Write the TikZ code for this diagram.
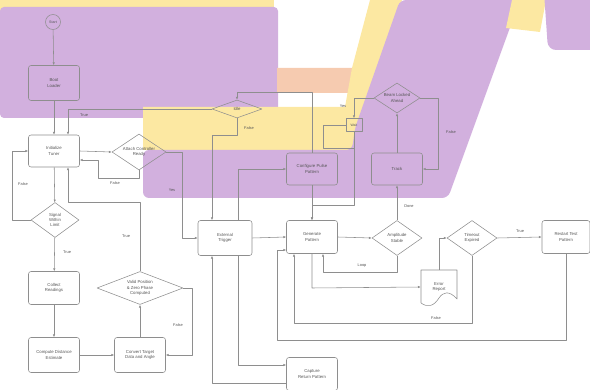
\documentclass[tikz,border=0pt]{standalone}
\usepackage{fontspec}
\setmainfont{Liberation Sans}
\usetikzlibrary{arrows.meta,shapes.geometric}
\definecolor{flowedge}{HTML}{8E8E8E}
\definecolor{flowtext}{HTML}{555555}
\definecolor{hlpurple}{HTML}{D2B0DE}
\definecolor{hlyellow}{HTML}{FCE8A2}
\definecolor{hlpeach}{HTML}{F6CBB0}

\begin{document}
\begin{tikzpicture}[
  x=1pt,
  y=-1pt,
  line join=round,
  wire/.style={draw=flowedge,line width=0.55pt},
  flow/.style={wire,-{Latex[length=2.8pt,width=2.4pt]}},
  stepbox/.style={wire,rounded corners=2.5pt,minimum width=51pt,minimum height=33pt,inner sep=1pt,align=center,text=flowtext,font=\fontsize{4.3}{5.4}\selectfont},
  choice/.style={wire,diamond,aspect=1.5,inner sep=0pt,align=center,text=flowtext,font=\fontsize{4.3}{5.4}\selectfont},
  tag/.style={inner sep=0.5pt,text=flowtext,font=\fontsize{3.9}{4.6}\selectfont}
]
  \useasboundingbox (0,0) rectangle (590,390);

  % Highlighter strokes behind the chart.
  \fill[hlyellow] (0,0) rectangle (274,11);
  \fill[hlpurple,rounded corners=4pt] (0,7) rectangle (278,118);
  \fill[hlpeach] (277,68) -- (353,68) -- (348,93) -- (277,93) -- cycle;
  \fill[hlyellow] (370,0) -- (402,0) -- (357,127) -- (354,150) -- (143,150) -- (143,107) -- (345,107) -- (352,68) -- cycle;
  \fill[hlpurple,rounded corners=6pt] (400,0) -- (520,0) -- (448,198) -- (143,198) -- (143,150) -- (352,150) -- (355,128) -- cycle;
  \fill[hlyellow] (512,0) -- (546,0) -- (540,32) -- (506,28) -- cycle;
  \fill[hlpurple,rounded corners=8pt] (544,-8) -- (598,-8) -- (598,50) -- (548,50) -- cycle;

  % Left column.
  \node[wire,circle,minimum size=15pt,inner sep=0pt,text=flowtext,font=\fontsize{3.6}{4}\selectfont] (start) at (53,22) {Start};
  \node[stepbox,minimum height=35pt] (boot) at (54,83) {Boot\\Loader};
  \node[stepbox,minimum height=32pt] (init) at (54,151) {Initialize\\Tuner};
  \node[choice,minimum width=48pt,minimum height=35pt] (limit) at (55,220) {Signal\\Within\\Limit};
  \node[stepbox] (collect) at (54,288) {Collect\\Readings};
  \node[stepbox,minimum height=35pt] (distance) at (54,355) {Compute Distance\\Estimate};
  \node[stepbox,minimum height=35pt] (convert) at (140,355) {Convert Target\\Data and Angle};
  \node[choice,aspect=2.6,minimum width=86pt,minimum height=33pt] (valid) at (140,288) {Valid Position\\\& Zero Phase\\Computed};
  \node[choice,minimum width=54pt,minimum height=36pt] (attach) at (139,152) {Attach Controller\\Ready};

  % Upper middle, inside the marked band.
  \node[choice,aspect=2.7,minimum width=50pt,minimum height=18pt] (idle) at (237,109) {Idle};
  \node[stepbox,minimum height=32pt] (pulse) at (312,169) {Configure Pulse\\Pattern};
  \node[wire,minimum width=16pt,minimum height=13pt,inner sep=0.5pt,text=flowtext,font=\fontsize{3.4}{4}\selectfont] (wait) at (354,125) {Wait};
  \node[choice,minimum width=46pt,minimum height=30pt] (lock) at (397,98) {Beam Locked\\Ahead};
  \node[stepbox,minimum height=32pt] (track) at (397,169) {Track};

  % Lower middle and right.
  \node[stepbox,minimum width=54pt,minimum height=35pt] (trigger) at (225,238) {External\\Trigger};
  \node[stepbox] (pattern) at (312,237) {Generate\\Pattern};
  \node[choice,minimum width=50pt,minimum height=35pt] (stable) at (397,238) {Amplitude\\Stable};
  \node[inner sep=0pt,minimum width=36pt,minimum height=34pt,align=center,text=flowtext,font=\fontsize{4.3}{5.4}\selectfont] (report) at (439,287) {Error\\Report};
  \node[choice,minimum width=50pt,minimum height=35pt] (timeout) at (472,238) {Timeout\\Expired};
  \node[stepbox,minimum width=48pt] (restart) at (566,237) {Restart Test\\Pattern};
  \node[stepbox] (capture) at (312,374) {Capture\\Return Pattern};

  % Document outline with a wavy lower edge.
  \draw[wire] (421,303) -- (421,270) -- (457,270) -- (457,299) .. controls (449,290) and (443,292) .. (439,298) .. controls (434,306) and (428,308) .. (421,303);

  % Left column connectors.
  \draw[flow] (start) -- (boot);
  \draw[flow] (boot) -- (init);
  \draw[flow] (init) -- (limit);
  \draw[flow] (limit) -- (collect);
  \draw[flow] (collect) -- (distance);
  \draw[flow] (distance) -- (convert);
  \draw[flow] (convert) -- (valid);
  \draw[flow] (limit.west) -- (12,220) |- (init.west);
  \draw[flow] (valid.east) -- (192,288) |- (convert.east);
  \draw[flow] (valid.north) |- (68,202) -- ([xshift=14pt]init.south);
  \draw[flow] (init.east) -- (attach.west);
  \draw[flow] (attach.south) -- (139,178) -| (98,160) -- ([yshift=-9pt]init.east);
  \draw[flow] (attach.east) -- (182,152) |- (trigger.west);
  \draw[flow] (idle.west) -| ([xshift=14pt]init.north);
  \node[tag] (tfalse1) at (23,184) {False};
  \node[tag] (ttrue1) at (67,252) {True};
  \node[tag] (tfalse2) at (178,325) {False};
  \node[tag] (ttrue2) at (126,236) {True};
  \node[tag] (tfalse3) at (115,183) {False};
  \node[tag] (tyes1) at (172,190) {Yes};
  \node[tag] (ttrue3) at (84,115) {True};

  % Upper middle connectors.
  \draw[flow] (idle.south) -- (237,135) -| ([xshift=-13pt]trigger.north);
  \draw[flow] ([xshift=13pt]trigger.north) |- (pulse.west);
  \draw[flow] (pulse.north) -- (312,92) -| (idle.north);
  \draw[flow] (lock.west) -| (wait.north);
  \draw[wire] (wait.west) -- (323,125) -- (323,148) -- (354,148);
  \draw[flow] (wait.south) -- (354,205) -| (pattern.north);
  \draw[flow] (lock.east) -- (438,98) |- (track.east);
  \draw[flow] (track.north) -- (lock.south);
  \draw[flow] (stable.north) -- (track.south);
  \draw[flow] (pulse.south) -- (pattern.north);
  \node[tag] (tfalse4) at (249,128) {False};
  \node[tag] (tyes2) at (343,106) {Yes};
  \node[tag] (tfalse5) at (451,132) {False};
  \node[tag] (tdone) at (409,206) {Done};

  % Lower connectors.
  \draw[flow] (trigger.east) -- (pattern.west);
  \draw[flow] (pattern.east) -- (stable.west);
  \draw[flow] (stable.south) -- (397,272) -| ([xshift=11pt]pattern.south);
  \draw[flow] (pattern.south) -- (312,288) -- (report.west);
  \draw[flow] (report.north) |- (timeout.west);
  \draw[flow] (timeout.east) -- (restart.west);
  \draw[flow] (timeout.south) -- (472,323) -| ([xshift=-18pt]pattern.south);
  \draw[flow] (restart.south) -- (566,340) -| (277,250) -- ([yshift=-13pt]pattern.west);
  \draw[flow] ([xshift=13pt]trigger.south) |- ([yshift=9pt]capture.west);
  \draw[flow] ([yshift=-9pt]capture.west) -| ([xshift=-13pt]trigger.south);
  \node[tag] (tloop) at (362,266) {Loop};
  \node[tag] (tfalse6) at (436,318) {False};
  \node[tag] (ttrue4) at (520,231) {True};
\end{tikzpicture}
\end{document}
